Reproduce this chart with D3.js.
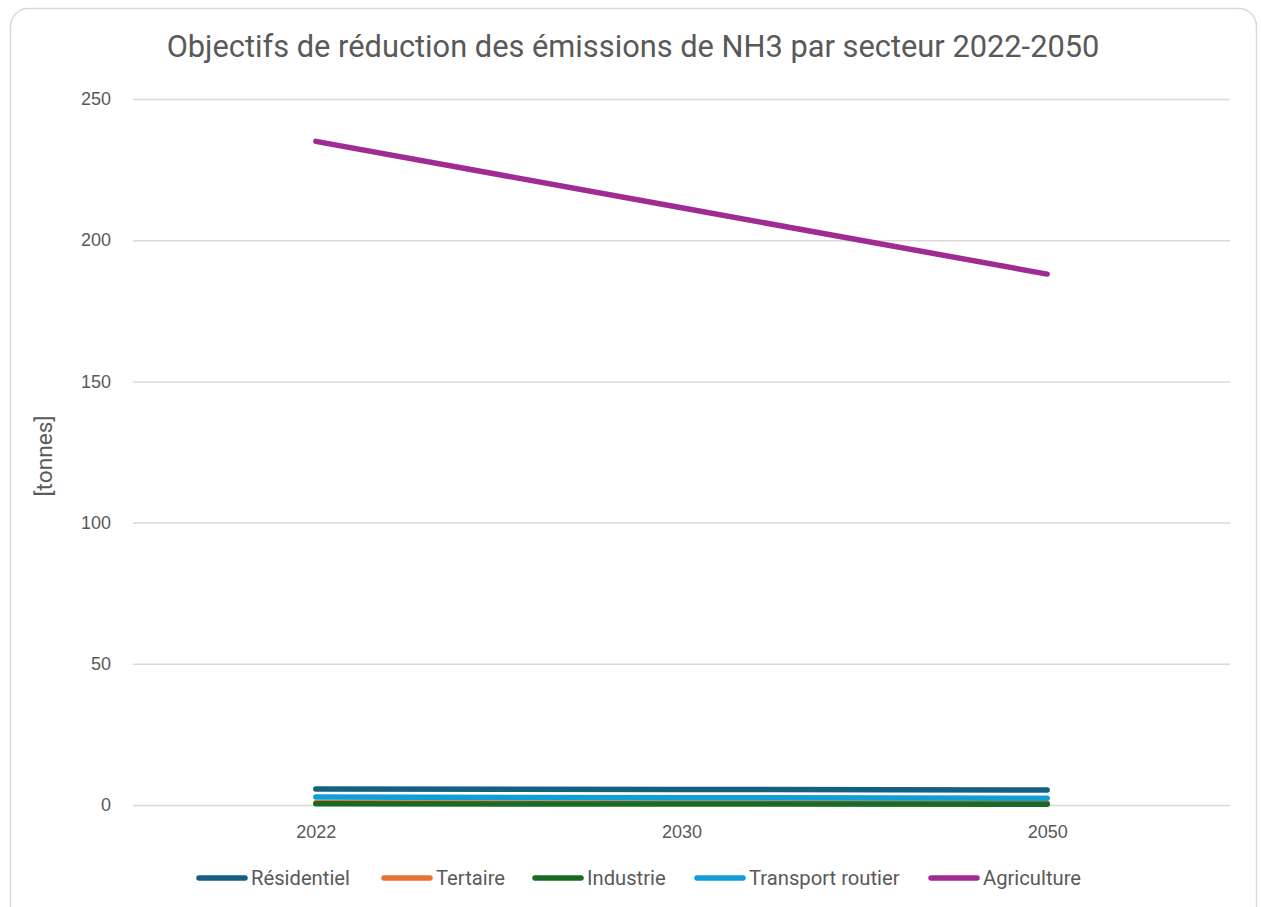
<!DOCTYPE html>
<html><head><meta charset="utf-8">
<script src="https://cdn.jsdelivr.net/npm/d3@7"></script>
<style>
html,body{margin:0;padding:0;background:#fff;}
svg{display:block;}
</style></head>
<body>
<svg id="chart" width="1261" height="907"></svg>
<script>
const categories = ["2022", "2030", "2050"];
const residentiel = [5.7, 5.5, 5.3];
const tertaire = [0.8, 0.7, 0.6];
const industrie = [0.4, 0.35, 0.3];
const transportRoutier = [2.8, 2.6, 2.4];
const agriculture = [235, 211.5, 188];
const yTicks = [0, 50, 100, 150, 200, 250];
const seriesNames = ["Résidentiel", "Tertaire", "Industrie", "Transport routier", "Agriculture"];
const seriesColors = ["#156082", "#E97132", "#196B24", "#0F9ED5", "#A02B93"];
const title = "Objectifs de réduction des émissions de NH3 par secteur 2022-2050";
const yLabel = "[tonnes]";

const series = [residentiel, tertaire, industrie, transportRoutier, agriculture].map((v, i) => ({name: seriesNames[i], color: seriesColors[i], values: v}));

const svg = d3.select("#chart");
const sans = "Roboto,'Liberation Sans',sans-serif";
const arial = "'Liberation Sans',Arial,sans-serif";

svg.append("rect").attr("x", 10.5).attr("y", 8.5).attr("width", 1246).attr("height", 920)
  .attr("rx", 18).attr("fill", "#fff").attr("stroke", "#d9d9d9").attr("stroke-width", 1.5);

const pLeft = 133, pRight = 1230, pTop = 99, pBottom = 805;
const x = d3.scalePoint().domain(categories).range([pLeft, pRight]).padding(0.5);
const y = d3.scaleLinear().domain([0, 250]).range([pBottom, pTop]);

const t = svg.append("text").attr("x", 633).attr("y", 57).attr("text-anchor", "middle")
  .attr("font-family", sans).attr("font-size", 26).attr("fill", "#595959").text(title);
const tw = t.node().getComputedTextLength();
t.attr("font-size", 26 * 933 / tw);

const yAxis = svg.append("g").attr("transform", `translate(${pLeft},0)`)
  .call(d3.axisLeft(y).tickValues(yTicks).tickSize(-(pRight-pLeft)).tickPadding(22));
yAxis.select(".domain").remove();
yAxis.selectAll(".tick line").attr("stroke", "#d9d9d9").attr("stroke-width", 1.5);
yAxis.selectAll(".tick text").attr("font-family", arial).attr("font-size", 18).attr("fill", "#595959");

const xAxis = svg.append("g").attr("transform", `translate(0,${pBottom})`)
  .call(d3.axisBottom(x).tickSize(0).tickPadding(20));
xAxis.select(".domain").remove();
xAxis.selectAll(".tick text").attr("font-family", arial).attr("font-size", 18).attr("fill", "#595959");

const yl = svg.append("text").attr("transform", `translate(52,456) rotate(-90)`).attr("text-anchor", "middle")
  .attr("font-family", sans).attr("font-size", 20).attr("fill", "#595959").text(yLabel);
const ylw = yl.node().getComputedTextLength();
yl.attr("font-size", 20 * 81 / ylw);

const line = d3.line().x((d, i) => x(categories[i])).y(d => y(d));
const drawOrder = [1, 2, 3, 0, 4];
drawOrder.forEach(i => {
  const s = series[i];
  svg.append("path").attr("d", line(s.values)).attr("fill", "none")
    .attr("stroke", s.color).attr("stroke-width", 5.5).attr("stroke-linecap", "round").attr("stroke-linejoin", "round");
});

const legendX = [199, 384, 535, 697, 931];
const lg = svg.append("g");
const legendTexts = [];
series.forEach((s, i) => {
  const g = lg.append("g").attr("transform", `translate(${legendX[i]},878)`);
  g.append("line").attr("x1", 0).attr("x2", 46).attr("y1", 0).attr("y2", 0)
    .attr("stroke", s.color).attr("stroke-width", 5.5).attr("stroke-linecap", "round");
  legendTexts.push(g.append("text").attr("x", 52).attr("y", 6.5).attr("font-family", sans).attr("font-size", 18)
    .attr("fill", "#595959").text(s.name));
});
const lw = legendTexts[0].node().getComputedTextLength();
const lfs = 18 * 99 / lw;
legendTexts.forEach(tx => tx.attr("font-size", lfs));
</script>
</body></html>
